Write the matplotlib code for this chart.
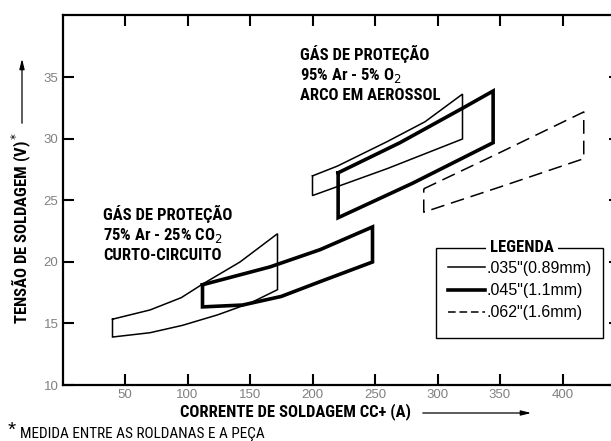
import matplotlib
matplotlib.use("Agg")
from matplotlib import pyplot as plt
from matplotlib import font_manager as fm
from matplotlib.lines import Line2D
from matplotlib.patches import Rectangle

# --- data (current A, voltage V) ---
# .035" wire, 75% Ar - 25% CO2 (short circuit)
co2_035_up_x = [40, 70, 95, 112, 142, 172]
co2_035_up_y = [15.35, 16.1, 17.1, 18.2, 20.0, 22.3]
co2_035_lo_x = [40, 70, 96, 124, 150, 172]
co2_035_lo_y = [13.9, 14.25, 14.85, 15.7, 16.65, 17.75]
# .045" wire, 75% Ar - 25% CO2
co2_045_up_x = [112, 166, 206, 248]
co2_045_up_y = [18.15, 19.6, 21.0, 22.85]
co2_045_lo_x = [112, 144, 175, 206, 248]
co2_045_lo_y = [16.35, 16.5, 17.2, 18.4, 20.0]
# .035" wire, 95% Ar - 5% O2 (spray arc)
o2_035_up_x = [200, 220, 260, 290, 320]
o2_035_up_y = [27.0, 27.8, 29.8, 31.4, 33.65]
o2_035_lo_x = [200, 260, 320]
o2_035_lo_y = [25.4, 27.6, 30.0]
# .045" wire, 95% Ar - 5% O2
o2_045_up_x = [220.5, 270, 320, 344.5]
o2_045_up_y = [27.25, 29.7, 32.5, 33.9]
o2_045_lo_x = [220.5, 280, 344.5]
o2_045_lo_y = [23.6, 26.4, 29.7]
# .062" wire, 95% Ar - 5% O2
o2_062_up_x = [289, 350, 417]
o2_062_up_y = [25.95, 28.9, 32.2]
o2_062_lo_x = [289, 350, 417]
o2_062_lo_y = [24.05, 26.1, 28.4]

x_ticks = [50, 100, 150, 200, 250, 300, 350, 400]
y_ticks = [10, 15, 20, 25, 30, 35]
legend_labels = ['.035"(0.89mm)', '.045"(1.1mm)', '.062"(1.6mm)']
spray_lines = ['GÁS DE PROTEÇÃO', '95% Ar - 5% O$_2$', 'ARCO EM AEROSSOL']
short_lines = ['GÁS DE PROTEÇÃO', '75% Ar - 25% CO$_2$', 'CURTO-CIRCUITO']

W, H = 611, 441


def px(x, y):
    # image pixel (from top-left) -> figure fraction
    return (x / W, 1 - y / H)


def pick_narrow():
    # the original uses a condensed bold face; take whatever narrow font exists
    for fam, stretch in [('Liberation Sans Narrow', 'normal'),
                         ('Roboto Condensed', 'normal'),
                         ('DejaVu Sans', 'condensed')]:
        try:
            path = fm.findfont(fm.FontProperties(family=fam, stretch=stretch, weight='bold'),
                               fallback_to_default=False)
        except ValueError:
            continue
        if 'dejavu' in path.lower() and 'condensed' not in path.lower():
            continue
        return fam, stretch, 1.0
    return 'Roboto', 'normal', 0.88


NARROW, STRETCH, SCALE = pick_narrow()
narrow = dict(family=[NARROW, 'DejaVu Sans'], fontstretch=STRETCH)
plain = ['Liberation Sans', 'DejaVu Sans']
big = 12 * SCALE

fig = plt.figure(figsize=(W / 100, H / 100), dpi=100)
ax_left, ax_right, ax_top, ax_bot = 62.5, 620, 15, 385
ax = fig.add_axes([ax_left / W, 1 - ax_bot / H, (ax_right - ax_left) / W, (ax_bot - ax_top) / H])

thin = dict(color='black', lw=1.1, solid_joinstyle='miter')
thick = dict(color='black', lw=2.6, solid_joinstyle='miter')
dashed = dict(color='black', lw=1.1, linestyle=(0, (9, 4.5)))


def outline(up_x, up_y, lo_x, lo_y, style):
    xs = list(up_x) + list(reversed(lo_x)) + [up_x[0]]
    ys = list(up_y) + list(reversed(lo_y)) + [up_y[0]]
    ax.plot(xs, ys, **style)


outline(co2_035_up_x, co2_035_up_y, co2_035_lo_x, co2_035_lo_y, thin)
outline(co2_045_up_x, co2_045_up_y, co2_045_lo_x, co2_045_lo_y, thick)
outline(o2_035_up_x, o2_035_up_y, o2_035_lo_x, o2_035_lo_y, thin)
outline(o2_045_up_x, o2_045_up_y, o2_045_lo_x, o2_045_lo_y, thick)
outline(o2_062_up_x, o2_062_up_y, o2_062_lo_x, o2_062_lo_y, dashed)

ax.set_xlim(0, (ax_right - ax_left) / 1.25)
ax.set_ylim(10, 40.08)
ax.set_xticks(x_ticks)
ax.set_yticks(y_ticks)
for s in ax.spines.values():
    s.set_linewidth(1.6)
ax.tick_params(direction='in', length=8, width=1.5, top=True, right=True,
               labelsize=9.5, labelcolor='#808080', pad=3)
for lab in ax.get_xticklabels() + ax.get_yticklabels():
    lab.set_family(plain)

# annotations, one line at a time on their baselines
for i, line in enumerate(spray_lines):
    fig.text(*px(300, 60 + 20 * i), line, weight='bold', fontsize=big,
             va='baseline', ha='left', **narrow)
for i, line in enumerate(short_lines):
    fig.text(*px(103, 220 + 20 * i), line, weight='bold', fontsize=big,
             va='baseline', ha='left', **narrow)

# axis titles with arrows
fig.text(*px(21, 228), 'TENSÃO DE SOLDAGEM (V)$^*$', weight='bold',
         fontsize=big, rotation=90, ha='center', va='center', **narrow)
fig.text(*px(295, 412), 'CORRENTE DE SOLDAGEM CC+ (A)', weight='bold',
         fontsize=big, ha='center', va='center', **narrow)
arrow = dict(arrowstyle='-|>,head_length=0.6,head_width=0.15', color='black', lw=0.9)
ax.annotate('', xy=px(22, 56), xytext=px(22, 126), xycoords='figure fraction',
            textcoords='figure fraction', arrowprops=arrow)
ax.annotate('', xy=px(534, 413), xytext=px(420, 413), xycoords='figure fraction',
            textcoords='figure fraction', arrowprops=arrow)

# footnote
fig.text(*px(8, 436), '*', family=plain, fontsize=15, ha='left', va='baseline')
fig.text(*px(20, 438), 'MEDIDA ENTRE AS ROLDANAS E A PEÇA',
         fontsize=11 * SCALE, ha='left', va='baseline', **narrow)

# legend: frame drawn by hand so the title can sit on the border
x0, y0 = px(436, 338)
x1, y1 = px(603, 248)
fig.add_artist(Rectangle((x0, y0), x1 - x0, y1 - y0, transform=fig.transFigure,
                         fill=False, edgecolor='black', lw=1.0))
fig.text(*px(522, 248), 'LEGENDA', weight='bold', fontsize=big,
         ha='center', va='center',
         bbox=dict(facecolor='white', edgecolor='none', pad=3), **narrow)
handles = [Line2D([], [], color='black', lw=1.1),
           Line2D([], [], color='black', lw=2.6),
           Line2D([], [], color='black', lw=1.1, linestyle=(0, (5, 2.5)))]
ax.legend(handles, legend_labels, loc='upper left', bbox_to_anchor=px(448, 261),
          bbox_transform=fig.transFigure, frameon=False, handlelength=2.3,
          handletextpad=0.1, labelspacing=0.45, borderpad=0, borderaxespad=0,
          prop=dict(family=plain, size=11.5))

fig.savefig('out.png', dpi=100)
